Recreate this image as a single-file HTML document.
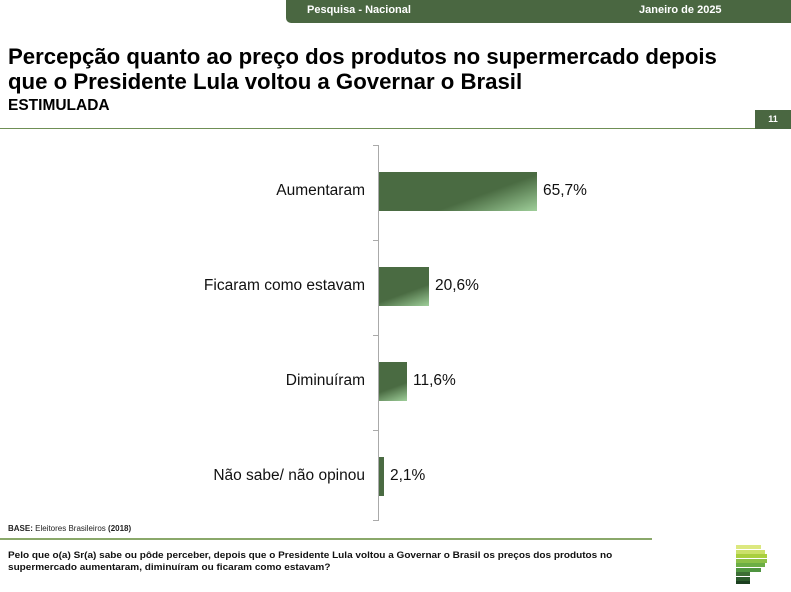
<!DOCTYPE html>
<html><head><meta charset="utf-8"><style>
body{margin:0;width:791px;height:592px;position:relative;background:#fff;font-family:"Liberation Sans",Arial,sans-serif;overflow:hidden}
.a{position:absolute}
.bar{position:absolute;left:379px;height:39px;background:linear-gradient(160deg,#4a6b42 0%,#4a6b42 62%,#9fcf9a 100%)}
.lab{position:absolute;right:426px;font-size:15.5px;color:#111;text-align:right;white-space:nowrap}
.val{position:absolute;font-size:15.5px;color:#111}
.tick{position:absolute;left:373px;width:6px;height:1px;background:#aaa}
</style></head><body>
<div class="a" style="left:286px;top:0;width:505px;height:23px;background:#4a6741;border-bottom-left-radius:5px"></div>
<div class="a" style="left:307px;top:4px;font-size:11px;font-weight:bold;color:#fff">Pesquisa - Nacional</div>
<div class="a" style="left:639px;top:4px;font-size:11px;font-weight:bold;color:#fff">Janeiro de 2025</div>
<div class="a" style="left:8px;top:44px;font-size:22.2px;font-weight:bold;line-height:25px;color:#000;white-space:nowrap">Percepção quanto ao preço dos produtos no supermercado depois<br>que o Presidente Lula voltou a Governar o Brasil</div>
<div class="a" style="left:8px;top:97px;font-size:15.5px;font-weight:bold;color:#000">ESTIMULADA</div>
<div class="a" style="left:0;top:128px;width:755px;height:1px;background:#6f8f55"></div>
<div class="a" style="left:755px;top:110px;width:36px;height:19px;background:#4a6741;color:#fff;font-size:9px;font-weight:bold;text-align:center;line-height:19px">11</div>
<div class="a" style="left:378px;top:145px;width:1px;height:376px;background:#aaa"></div>
<div class="tick" style="top:145px"></div><div class="tick" style="top:240px"></div><div class="tick" style="top:335px"></div><div class="tick" style="top:430px"></div><div class="tick" style="top:520px"></div>
<div class="bar" style="top:172px;width:158px"></div>
<div class="bar" style="top:267px;width:50px"></div>
<div class="bar" style="top:362px;width:28px"></div>
<div class="bar" style="top:457px;width:5px;background:#4a6b42"></div>
<div class="lab" style="top:182px">Aumentaram</div>
<div class="lab" style="top:277px">Ficaram como estavam</div>
<div class="lab" style="top:372px">Diminuíram</div>
<div class="lab" style="top:467px">Não sabe/ não opinou</div>
<div class="val" style="left:543px;top:182px">65,7%</div>
<div class="val" style="left:435px;top:277px">20,6%</div>
<div class="val" style="left:413px;top:372px">11,6%</div>
<div class="val" style="left:390px;top:467px">2,1%</div>
<div class="a" style="left:8px;top:524px;font-size:8px;color:#222"><b>BASE:</b> Eleitores Brasileiros <b>(2018)</b></div>
<div class="a" style="left:0;top:538px;width:652px;height:2px;background:#8aa86a"></div>
<div class="a" style="left:8px;top:549px;font-size:9.1px;font-weight:bold;line-height:12px;color:#111;white-space:nowrap;transform:scaleX(1.1);transform-origin:0 0">Pelo que o(a) Sr(a) sabe ou pôde perceber, depois que o Presidente Lula voltou a Governar o Brasil os preços dos produtos no<br>supermercado aumentaram, diminuíram ou ficaram como estavam?</div>
<div class="a" style="left:736px;top:545px;width:25px;height:4px;background:#dce87f"></div>
<div class="a" style="left:736px;top:549.5px;width:29px;height:4px;background:#cbe06a"></div>
<div class="a" style="left:736px;top:554px;width:31px;height:4px;background:#a9cf3e"></div>
<div class="a" style="left:736px;top:558.5px;width:31px;height:4px;background:#8cc048"></div>
<div class="a" style="left:736px;top:563px;width:29px;height:4px;background:#6cae45"></div>
<div class="a" style="left:736px;top:567.5px;width:25px;height:4px;background:#4f9440"></div>
<div class="a" style="left:736px;top:572px;width:14px;height:4px;background:#3c6e35"></div>
<div class="a" style="left:736px;top:576.5px;width:14px;height:4px;background:#2b5a2c"></div>
<div class="a" style="left:736px;top:581px;width:14px;height:3px;background:#1b3f20"></div>
</body></html>
